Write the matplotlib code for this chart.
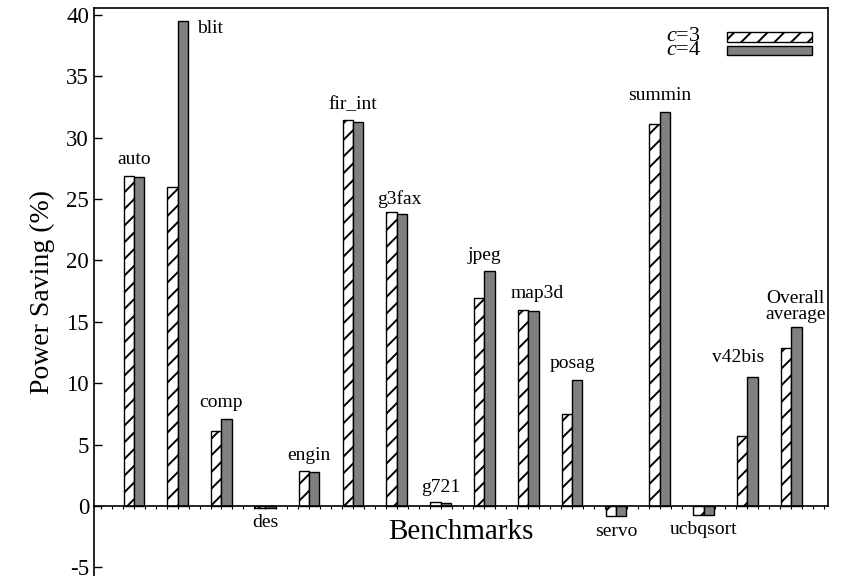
import numpy as np
import matplotlib
matplotlib.use("Agg")
import matplotlib.pyplot as plt
from matplotlib.patches import Rectangle
from matplotlib.ticker import MultipleLocator

plt.rcParams["font.family"] = ["Liberation Serif", "DejaVu Serif"]
plt.rcParams["hatch.linewidth"] = 1.4
plt.rcParams["axes.unicode_minus"] = False
plt.rcParams["mathtext.fontset"] = "custom"
plt.rcParams["mathtext.it"] = "Liberation Serif:italic"
plt.rcParams["mathtext.rm"] = "Liberation Serif"

# ------------------------------------------------------------
# data
# ------------------------------------------------------------
benchmarks = ["auto", "blit", "comp", "des", "engin", "fir_int", "g3fax", "g721",
              "jpeg", "map3d", "posag", "servo", "summin", "ucbqsort", "v42bis",
              "Overall\naverage"]
saving_c3 = [26.9, 26.0, 6.1, -0.15, 2.85, 31.4, 23.9, 0.3,
             16.9, 16.0, 7.5, -0.8, 31.1, -0.7, 5.7, 12.9]
saving_c4 = [26.8, 39.5, 7.1, -0.15, 2.75, 31.3, 23.8, 0.25,
             19.1, 15.9, 10.3, -0.85, 32.1, -0.7, 10.5, 14.6]
series_labels = ["$c$=3", "$c$=4"]

# small nudges for the benchmark names (x shift, y gap) in data units
label_nudge = {"blit": (0.75, -1.3), "map3d": (0.2, 0.6), "g3fax": (0.05, 0.4),
               "v42bis": (-0.2, 0.9), "Overall\naverage": (0.1, 0.3),
               "g721": (0.0, 0.5)}

x = np.arange(len(benchmarks))
w = 0.235

fig = plt.figure(figsize=(8.42, 5.76), dpi=100)
ax = fig.add_axes([0.1116, 0.0, 0.8718, 0.9861])

bar_styles = [dict(facecolor="white", hatch="//"),
              dict(facecolor="#808080", hatch=None)]

ax.bar(x - w / 2, saving_c3, width=w, edgecolor="black", linewidth=1.0,
       **bar_styles[0])
ax.bar(x + w / 2, saving_c4, width=w, edgecolor="black", linewidth=1.0,
       **bar_styles[1])

for i, name in enumerate(benchmarks):
    top = max(saving_c3[i], saving_c4[i])
    bot = min(saving_c3[i], saving_c4[i])
    dx, dy = label_nudge.get(name, (0.0, 0.6))
    if top > 0:
        ax.text(x[i] + dx, top + dy, name, ha="center", va="bottom",
                fontsize=14, linespacing=0.95)
    else:
        ax.text(x[i] + dx, bot - 0.5, name, ha="center", va="top",
                fontsize=14)

ax.set_xlim(-0.91, 15.84)
ax.set_ylim(-5.7, 40.55)
ax.yaxis.set_major_locator(MultipleLocator(5))
ax.tick_params(axis="y", direction="in", length=6, labelsize=16.5, width=1.0)
ax.set_xticks([])
ax.xaxis.set_minor_locator(MultipleLocator(0.25))
ax.tick_params(axis="x", which="minor", direction="out", length=2.5, width=0.8)

ax.spines["bottom"].set_position(("data", 0))
ax.spines["right"].set_bounds(0, 40.55)
for s in ax.spines.values():
    s.set_linewidth(1.2)

ax.set_ylabel("Power Saving (%)", fontsize=20, labelpad=8)
ax.text(0.5, 0.077, "Benchmarks", transform=ax.transAxes, ha="center",
        va="center", fontsize=21)

# legend drawn by hand so the two rows can sit close together
for k, lab in enumerate(series_labels):
    yc = 0.949 - k * 0.0246
    ax.add_patch(Rectangle((0.862, yc - 0.008), 0.116, 0.016,
                           transform=ax.transAxes, edgecolor="black",
                           linewidth=1.0, clip_on=False, **bar_styles[k]))
    ax.text(0.827, yc, lab, transform=ax.transAxes, ha="right", va="center",
            fontsize=16)

fig.savefig("out.png", dpi=100)
